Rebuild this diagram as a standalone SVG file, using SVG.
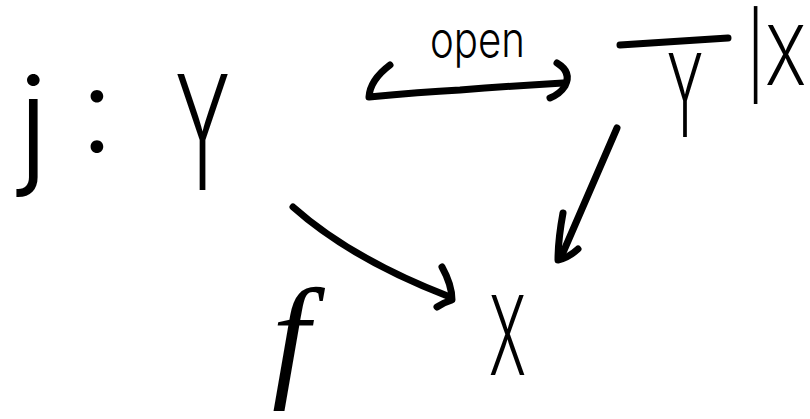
<svg xmlns="http://www.w3.org/2000/svg" width="810" height="419" viewBox="0 0 810 419">
<style>
text{font-family:Inter,"Open Sans","Liberation Sans",sans-serif;font-weight:300;fill:#000}
.c{fill:none;stroke:#000;stroke-width:7;stroke-linecap:round;stroke-linejoin:round}
</style>
<rect width="810" height="419" fill="#fff"/>
<g id="node-Y">
<text x="18" y="170" font-size="130">j</text>
<text x="80" y="152" font-size="120">:</text>
<text x="175" y="190" font-size="160" font-weight="400" textLength="55" lengthAdjust="spacingAndGlyphs">Y</text>
</g>
<g id="node-Ybar">
<line class="c" x1="620" y1="45" x2="728" y2="38"/>
<text x="667" y="137" font-size="115" font-weight="400" textLength="36" lengthAdjust="spacingAndGlyphs">Y</text>
<text transform="translate(746,85) scale(0.88,1.17)" font-size="70" font-weight="400">|X</text>
</g>
<g id="node-X">
<text x="489" y="375" font-size="110" font-weight="400" textLength="37" lengthAdjust="spacingAndGlyphs">X</text>
</g>
<g id="connectors">
<path class="c" d="M390,65 Q370,80 369,97 Q420,92 460,90 Q510,86 563,83"/>
<path class="c" d="M557,63 Q572,72 565,86 Q560,94 550,98"/>
<text x="430" y="57" font-size="50" font-weight="400" textLength="95" lengthAdjust="spacingAndGlyphs">open</text>
<path class="c" d="M617,128 Q590,190 562,255"/>
<path class="c" d="M563,213 Q558,240 558,260 Q568,258 578,249"/>
<path class="c" d="M293,207 C330,240 380,270 450,297"/>
<path class="c" d="M442,267 Q452,285 452,300 Q445,302 437,307"/>
<text x="272" y="382" font-size="135" style="font-family:'Liberation Serif',serif;font-style:italic;font-weight:400">f</text>
</g>
</svg>
